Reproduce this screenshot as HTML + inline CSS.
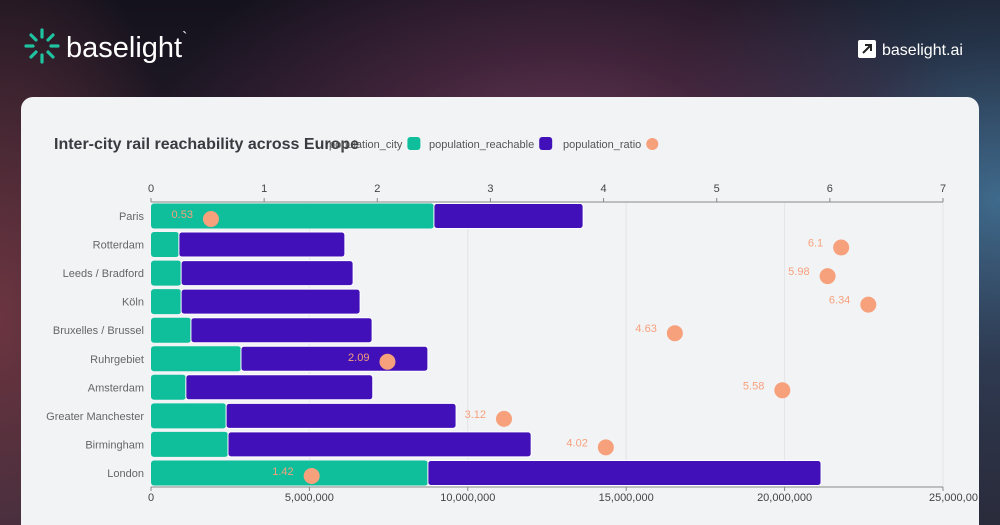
<!DOCTYPE html>
<html><head><meta charset="utf-8"><style>
html,body{margin:0;padding:0;width:1000px;height:525px;overflow:hidden;font-family:"Liberation Sans",sans-serif}
#wrap{position:relative;width:1000px;height:525px;overflow:hidden}
#bg{position:absolute;left:0;top:0;width:1000px;height:525px;
background:radial-gradient(ellipse 420px 260px at 560px 170px,#6a3a58 0%,rgba(90,45,75,0.6) 45%,rgba(0,0,0,0) 100%),
radial-gradient(ellipse 360px 320px at 1000px 200px,#3f6a8c 0%,rgba(50,80,110,0.5) 50%,rgba(0,0,0,0) 100%),
radial-gradient(ellipse 200px 400px at 0px 320px,#6b3540 0%,rgba(0,0,0,0) 100%),
linear-gradient(180deg,#14121d 0%,#2a1f2e 50%,#2a2c3c 100%)}
#card{position:absolute;left:21px;top:97px;width:958px;height:440px;background:#f2f3f5;border-radius:12px}
</style></head><body>
<div id="wrap">
<div id="bg"></div>
<svg width="1000" height="525" style="position:absolute;left:0;top:0">
<g stroke="#1fc3a0" stroke-width="3.2" stroke-linecap="round">
<line x1="42" y1="30" x2="42" y2="37"/><line x1="42" y1="55" x2="42" y2="62"/>
<line x1="26" y1="46" x2="33" y2="46"/><line x1="51" y1="46" x2="58" y2="46"/>
<line x1="31" y1="35" x2="36" y2="40"/><line x1="48" y1="52" x2="53" y2="57"/>
<line x1="53" y1="35" x2="48" y2="40"/><line x1="36" y1="52" x2="31" y2="57"/>
</g>
<text x="66" y="57" fill="#fff" font-size="29">baselight<tspan font-size="16" dy="-14">`</tspan></text>
<rect x="858" y="40" width="18" height="18" rx="2" fill="#fff"/>
<path d="M863 53 L871 45 M865 45 H871 V51" stroke="#222" stroke-width="2" fill="none"/>
<text x="882" y="55" fill="#fff" font-size="16">baselight.ai</text>
</svg>
<div id="card"></div>
<svg id="chart" width="1000" height="525" style="position:absolute;left:0;top:0"></svg>
</div>
<script>
const cities=["Paris","Rotterdam","Leeds / Bradford","Köln","Bruxelles / Brussel","Ruhrgebiet","Amsterdam","Greater Manchester","Birmingham","London"];
const popCity=[8930000,880000,950000,950000,1260000,2840000,1100000,2370000,2430000,8740000];
const popReachable=[4710000,5240000,5430000,5650000,5720000,5900000,5900000,7260000,9570000,12410000];
const popRatio=[0.53,6.1,5.98,6.34,4.63,2.09,5.58,3.12,4.02,1.42];
const popTicks=[0,5000000,10000000,15000000,20000000,25000000];
const popTickLabels=["0","5,000,000","10,000,000","15,000,000","20,000,000","25,000,00"];
const ratioTicks=[0,1,2,3,4,5,6,7];
const NS="http://www.w3.org/2000/svg",svg=document.getElementById('chart');
const X0=151,X1=943,TOP=202,BOT=487,ROW0=216,STEP=28.55,BH=25;
const xp=v=>X0+v/25000000*(X1-X0), xr=v=>X0+v/7*(X1-X0), yc=i=>ROW0+i*STEP;
function el(t,a,txt){const e=document.createElementNS(NS,t);for(const k in a)e.setAttribute(k,a[k]);if(txt!=null)e.textContent=txt;svg.appendChild(e);return e;}
let e=el('text',{x:54,y:149,'font-size':16,'font-weight':'bold',fill:'#3a3a40'},'Inter-city rail reachability across Europe');


const leg=[["population_city","#0fbf9b",'rect',329],["population_reachable","#4210b8",'rect',429],["population_ratio","#f7a07c",'circle',563]];
leg.forEach((l,i)=>{const t=el('text',{x:l[3],y:148,'font-size':11,fill:'#555'},l[0]);


const w=t.getComputedTextLength?t.getComputedTextLength():100;const mx=l[3]+w+5;
const m=l[2]==='rect'?el('rect',{x:mx,y:137,width:13,height:13,rx:3,fill:l[1]}):el('circle',{cx:mx+6,cy:144,r:6,fill:l[1]});

});
popTicks.forEach((v,i)=>{if(i>0){const g=el('line',{x1:xp(v),x2:xp(v),y1:TOP,y2:BOT,stroke:'#e3e4e8'});

}
const t=el('text',{x:xp(v),y:BOT+14,'font-size':11,fill:'#444','text-anchor':i==5?'start':'middle'},popTickLabels[i]);
if(i==5)t.setAttribute('x',xp(v)-14);


el('line',{x1:xp(v),x2:xp(v),y1:BOT,y2:BOT+4,stroke:'#888'});});
ratioTicks.forEach(v=>{const t=el('text',{x:xr(v),y:192,'font-size':11,fill:'#444','text-anchor':'middle'},String(v));


el('line',{x1:xr(v),x2:xr(v),y1:TOP-4,y2:TOP,stroke:'#888'});});
e=el('line',{x1:X0,x2:X1,y1:TOP,y2:TOP,stroke:'#888'});
e=el('line',{x1:X0,x2:X1,y1:BOT,y2:BOT,stroke:'#888'});
cities.forEach((c,i)=>{const y=yc(i);
const t=el('text',{x:144,y:y+4,'font-size':11,fill:'#666','text-anchor':'end'},c);


const b1=el('rect',{x:xp(0),y:y-BH/2,width:xp(popCity[i])-xp(0),height:BH,rx:3,fill:'#0fbf9b'});


const b2=el('rect',{x:xp(popCity[i]),y:y-BH/2,width:xp(popCity[i]+popReachable[i])-xp(popCity[i]),height:BH,rx:3,fill:'#4210b8',stroke:'#fff','stroke-width':1});


const cx=xr(popRatio[i]);
const d=el('circle',{cx:cx,cy:y+3,r:8,fill:'#f7a07c'});


const lb=el('text',{x:cx-18,y:y+2,'font-size':11,fill:'#f7a07c','text-anchor':'end'},String(popRatio[i]));

});
</script>
</body></html>
